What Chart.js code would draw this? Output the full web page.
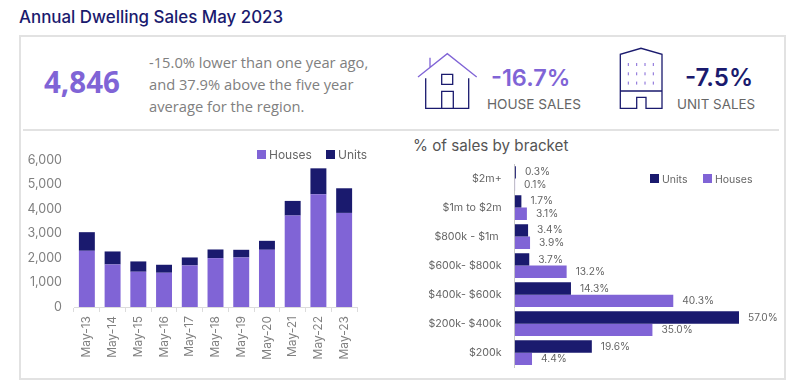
<!DOCTYPE html>
<html>
<head>
<meta charset="utf-8">
<script src="https://cdn.jsdelivr.net/npm/chart.js@4"></script>
<style>
  html, body { margin: 0; padding: 0; background: #fff; width: 805px; height: 384px; overflow: hidden; }
  .t { position: absolute; white-space: nowrap; font-family: Inter, sans-serif; line-height: 1; }
  canvas { position: absolute; }
  #panel { position: absolute; left: 19px; top: 35px; width: 763px; height: 341px; border: 2px solid #e2e2e2; }
  #rule { position: absolute; left: 23px; top: 129px; width: 756px; height: 2px; background: #e2e2e2; }
  .lg { position: absolute; font: 12px Inter, sans-serif; color: #666; white-space: nowrap; }
  .lg i { display: inline-block; width: 9px; height: 9px; margin-right: 3px; }
</style>
</head>
<body>
<div id="panel"></div>
<div id="rule"></div>

<div class="t" style="left:19px;top:9px;font-size:16.9px;font-weight:500;color:#1a1a6e">Annual Dwelling Sales May 2023</div>
<div class="t" style="left:44px;top:61px;font:700 29.5px 'Open Sans';color:#8064d6">4,846</div>
<div class="t" style="left:149px;top:52px;font:14.7px 'Open Sans';color:#808080">-15.0% lower than one year ago,</div>
<div class="t" style="left:149px;top:74px;font:14.7px 'Open Sans';color:#808080">and 37.9% above the five year</div>
<div class="t" style="left:149px;top:96px;font:14.7px 'Open Sans';color:#808080">average for the region.</div>
<div class="t" style="left:491px;top:66px;font-size:23.5px;font-weight:600;color:#8064d6">-16.7%</div>
<div class="t" style="left:487px;top:98px;font-size:13.6px;color:#666">HOUSE SALES</div>
<div class="t" style="left:685px;top:66px;font-size:24px;font-weight:600;color:#1a1a6e">-7.5%</div>
<div class="t" style="left:677px;top:98px;font-size:13.4px;color:#666">UNIT SALES</div>
<div class="t" style="left:413px;top:138px;font-size:15.2px;color:#555">% of sales by bracket</div>

<svg width="805" height="384" style="position:absolute;left:0;top:0" fill="none" stroke-width="1.3">
  <path d="M418 77L447.3 53.7L476.7 77M430 57.7V67" stroke="#8064d6"/>
  <path d="M425.7 78.3V108.3H468.7V78.3M441.7 74.3H452.7V84.3H441.7ZM441.7 108.3V91.3H453.3V108.3" stroke="#1a1a6e"/>
  <path d="M620.3 91V54.3L641 48.3L662 54.3V91M620.3 91H662M620.3 91V108.3H636.7V97.3H646V108.3H662V91" stroke="#1a1a6e"/>
  <path d="M628.3 63V66M636.7 63V66M645 63V66M653.3 63V66M628.3 72.3V75.3M636.7 72.3V75.3M645 72.3V75.3M653.3 72.3V75.3M628.3 81.6V84.6M636.7 81.6V84.6M645 81.6V84.6M653.3 81.6V84.6" stroke="#8064d6" stroke-width="1"/>
</svg>

<canvas id="yearChart" width="350" height="240" style="left:20px;top:140px"></canvas>
<canvas id="bracketChart" width="385" height="236" style="left:405px;top:146px"></canvas>

<div class="lg" style="left:257px;top:147px"><i style="background:#8064d6"></i>Houses</div>
<div class="lg" style="left:326px;top:147px"><i style="background:#1a1a6e"></i>Units</div>
<div class="lg" style="left:650px;top:173px;font-size:10.5px"><i style="background:#1a1a6e"></i>Units</div>
<div class="lg" style="left:703px;top:173px;font-size:10.5px"><i style="background:#8064d6"></i>Houses</div>

<script>
// annual sales
const years = ["May-13", "May-14", "May-15", "May-16", "May-17", "May-18", "May-19", "May-20", "May-21", "May-22", "May-23"];
const housesSales = [2294, 1737, 1439, 1398, 1697, 1995, 2022, 2335, 3733, 4602, 3841];
const unitsSales = [760, 530, 421, 326, 325, 353, 313, 366, 597, 1058, 1005];

// % of sales by price bracket
const brackets = ["$2m+", "$1m to $2m", "$800k - $1m ", "$600k- $800k", "$400k- $600k", "$200k- $400k", "$200k"];
const unitsPct = [0.3, 1.7, 3.4, 3.7, 14.3, 57.0, 19.6];
const housesPct = [0.1, 3.1, 3.9, 13.2, 40.3, 35.0, 4.4];

const purple = "#8064d6";
const navy = "#1a1a6e";
const grey = "#808080";
const axisLine = "#dcdcdc";

// writes the value next to the end of each horizontal bar
const barLabels = {
  id: "barLabels",
  afterDatasetsDraw(chart) {
    const ctx = chart.ctx;
    ctx.save();
    ctx.font = "10.2px Inter, sans-serif";
    ctx.fillStyle = "#666";
    ctx.textBaseline = "middle";
    chart.data.datasets.forEach((ds, d) => {
      chart.getDatasetMeta(d).data.forEach((bar, i) => {
        ctx.fillText(ds.data[i].toFixed(1) + "%", bar.x + 9, bar.y);
      });
    });
    ctx.restore();
  }
};

new Chart(document.getElementById("yearChart"), {
  type: "bar",
  data: {
    labels: years,
    datasets: [
      { label: "Houses", data: housesSales, backgroundColor: purple, barPercentage: 0.62, categoryPercentage: 1 },
      { label: "Units", data: unitsSales, backgroundColor: navy, barPercentage: 0.62, categoryPercentage: 1 }
    ]
  },
  options: {
    responsive: false,
    animation: false,
    layout: { padding: { top: 20, right: 13, left: 0, bottom: 0 } },
    plugins: { legend: { display: false }, tooltip: { enabled: false } },
    scales: {
      x: {
        stacked: true,
        afterFit: (s) => { s.height = 73; },
        grid: { drawOnChartArea: false, color: axisLine, tickLength: 5 },
        border: { color: axisLine },
        ticks: { color: grey, font: { family: "Inter", size: 12 }, minRotation: 90, maxRotation: 90, padding: 4 }
      },
      y: {
        stacked: true,
        min: 0,
        max: 6000,
        afterFit: (s) => { s.width = 54; },
        grid: { display: false },
        border: { display: false },
        ticks: { stepSize: 1000, color: grey, font: { family: "Inter", size: 12.5 }, padding: 4 }
      }
    }
  }
});

new Chart(document.getElementById("bracketChart"), {
  type: "bar",
  data: {
    labels: brackets,
    datasets: [
      { label: "Units", data: unitsPct, backgroundColor: navy, barPercentage: 1, categoryPercentage: 0.85 },
      { label: "Houses", data: housesPct, backgroundColor: purple, barPercentage: 1, categoryPercentage: 0.85 }
    ]
  },
  plugins: [barLabels],
  options: {
    indexAxis: "y",
    responsive: false,
    animation: false,
    layout: { padding: { top: 18, right: 39.2, left: 0, bottom: 14.8 } },
    plugins: { legend: { display: false }, tooltip: { enabled: false } },
    scales: {
      x: { display: false, min: 0, max: 60 },
      y: {
        afterFit: (s) => { s.width = 109.7; },
        grid: { display: false },
        border: { color: "#c8c8c8" },
        ticks: { color: "#666", font: { family: "Inter", size: 10.7 }, padding: 5 }
      }
    }
  }
});
</script>
</body>
</html>
